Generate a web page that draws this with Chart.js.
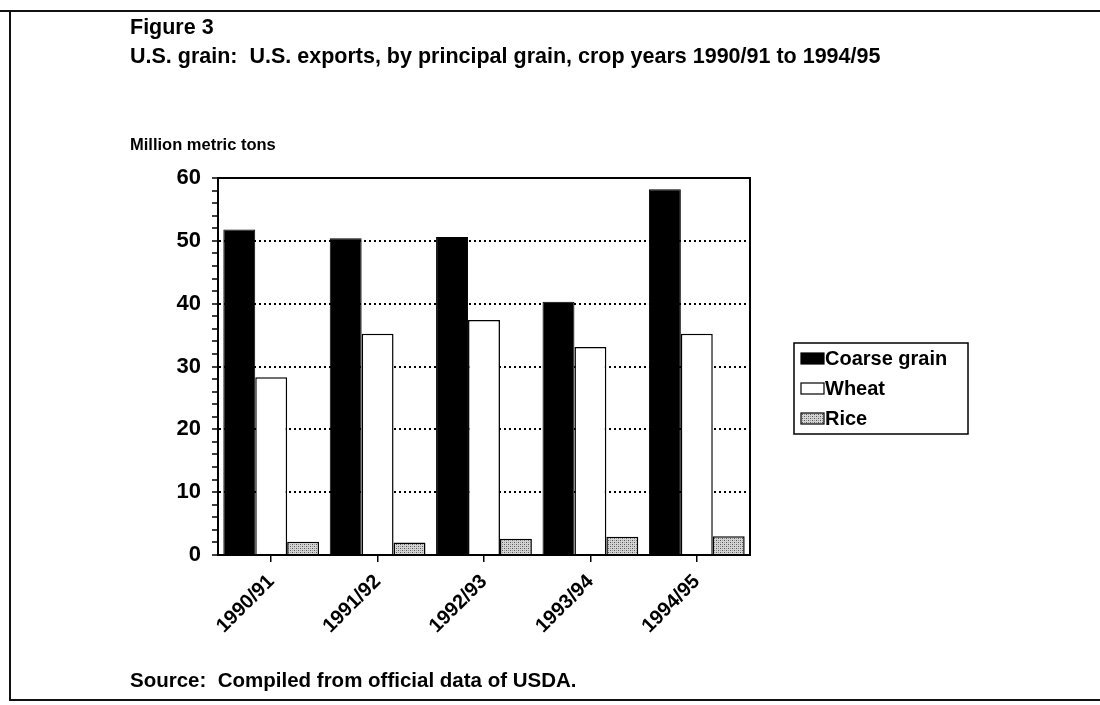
<!DOCTYPE html>
<html>
<head>
<meta charset="utf-8">
<script src="https://cdn.jsdelivr.net/npm/chart.js@4/dist/chart.umd.min.js"></script>
<style>
  html, body { margin: 0; padding: 0; background: #fff; }
  #wrap { position: relative; width: 1100px; height: 705px; overflow: hidden;
          font-family: "Liberation Sans", Arial, sans-serif; font-weight: bold; color: #000; }
  #c { position: absolute; left: 0; top: 0; }
  .t { position: absolute; white-space: nowrap; line-height: 1; }
  .rule { position: absolute; background: #111; }
</style>
</head>
<body>
<div id="wrap">
  <canvas id="c" width="1100" height="705"></canvas>
  <div class="rule" style="left:0;top:10px;width:1100px;height:2px;"></div>
  <div class="rule" style="left:9px;top:10px;width:2px;height:691px;"></div>
  <div class="rule" style="left:9px;top:699px;width:1091px;height:2px;"></div>
  <div class="t" style="left:130px;top:17px;font-size:21.5px;">Figure 3</div>
  <div class="t" style="left:130px;top:46px;font-size:21.5px;">U.S. grain:&nbsp; U.S. exports, by principal grain, crop years 1990/91 to 1994/95</div>
  <div class="t" style="left:130px;top:136px;font-size:16.5px;">Million metric tons</div>
  <div class="t" style="left:130px;top:670px;font-size:20.5px;">Source:&nbsp; Compiled from official data of USDA.</div>
</div>
<script>
// Crop years and exports by grain (million metric tons)
const cropYears = ["1990/91", "1991/92", "1992/93", "1993/94", "1994/95"];
const coarseGrain = [51.8, 50.4, 50.6, 40.3, 58.2];
const wheat = [28.3, 35.2, 37.4, 33.1, 35.2];
const rice = [2.1, 2.0, 2.6, 2.9, 3.0];
const seriesNames = ["Coarse grain", "Wheat", "Rice"];
const yTicksLabeled = [0, 10, 20, 30, 40, 50, 60];

const FONT = '"Liberation Sans", Arial, sans-serif';

// Stippled gray fill used for rice
function stipple() {
  const p = document.createElement('canvas');
  p.width = 4; p.height = 4;
  const g = p.getContext('2d');
  g.fillStyle = '#d4d4d4';
  g.fillRect(0, 0, 4, 4);
  g.fillStyle = '#555';
  g.fillRect(0, 0, 1, 1);
  g.fillRect(2, 2, 1, 1);
  g.fillStyle = '#999';
  g.fillRect(2, 0, 1, 1);
  g.fillRect(0, 2, 1, 1);
  return document.getElementById('c').getContext('2d').createPattern(p, 'repeat');
}
const riceFill = stipple();

// Solid frame around the plotting area
const plotFrame = {
  id: 'plotFrame',
  afterDraw(chart) {
    const { ctx, chartArea: a } = chart;
    ctx.save();
    ctx.setLineDash([]);
    ctx.strokeStyle = '#000';
    ctx.lineWidth = 2;
    ctx.strokeRect(a.left, a.top, a.right - a.left, a.bottom - a.top);
    ctx.restore();
  }
};

// Boxed legend to the right of the plot
const boxLegend = {
  id: 'boxLegend',
  afterDraw(chart) {
    const { ctx } = chart;
    const x = 794, y = 343, w = 174, h = 91;
    ctx.save();
    ctx.setLineDash([]);
    ctx.strokeStyle = '#000';
    ctx.lineWidth = 1.5;
    ctx.strokeRect(x, y, w, h);
    ctx.font = 'bold 20px ' + FONT;
    ctx.textBaseline = 'middle';
    chart.data.datasets.forEach((ds, i) => {
      const cy = y + 15 + i * 30;
      ctx.fillStyle = ds.backgroundColor;
      ctx.fillRect(801, cy - 5, 23, 11);
      ctx.lineWidth = 1.2;
      ctx.strokeStyle = '#000';
      ctx.strokeRect(801, cy - 5, 23, 11);
      ctx.fillStyle = '#000';
      ctx.fillText(ds.label, 825, cy + 1);
    });
    ctx.restore();
  }
};

new Chart(document.getElementById('c'), {
  type: 'bar',
  data: {
    labels: cropYears,
    datasets: [
      { label: seriesNames[0], data: coarseGrain, backgroundColor: '#000', borderColor: '#000', borderWidth: 1 },
      { label: seriesNames[1], data: wheat, backgroundColor: '#fff', borderColor: '#000', borderWidth: 1.5 },
      { label: seriesNames[2], data: rice, backgroundColor: riceFill, borderColor: '#000', borderWidth: 1.5 }
    ]
  },
  options: {
    responsive: false,
    animation: false,
    devicePixelRatio: 1,
    layout: { padding: { left: 0, top: 178, right: 350, bottom: 0 } },
    datasets: { bar: { categoryPercentage: 0.9, barPercentage: 1.0 } },
    plugins: { legend: { display: false }, tooltip: { enabled: false } },
    scales: {
      x: {
        afterFit(s) { s.height = 150; },
        grid: { offset: false, color: 'rgba(0,0,0,0)', tickColor: '#000', tickLength: 7,
                lineWidth: 1.5, tickBorderDash: [] },
        border: { display: true, color: '#000', width: 2 },
        ticks: {
          color: '#000', minRotation: 45, maxRotation: 45, padding: 8,
          font: { family: FONT, size: 20, weight: 'bold' }
        }
      },
      y: {
        min: 0, max: 60,
        afterFit(s) { s.width = 218; },
        grid: {
          color: c => (c.tick && c.tick.value % 10 === 0 && c.tick.value > 0 && c.tick.value < 60) ? '#000' : 'rgba(0,0,0,0)',
          lineWidth: 2,
          tickColor: '#000',
          tickLength: 6,
          tickWidth: 1.5,
          tickBorderDash: []
        },
        border: { display: true, color: '#000', width: 2, dash: [2, 3] },
        ticks: {
          stepSize: 2, autoSkip: false, color: '#000', padding: 11,
          font: { family: FONT, size: 22, weight: 'bold' },
          callback: v => yTicksLabeled.includes(v) ? String(v) : ''
        }
      }
    }
  },
  plugins: [plotFrame, boxLegend]
});
</script>
</body>
</html>
